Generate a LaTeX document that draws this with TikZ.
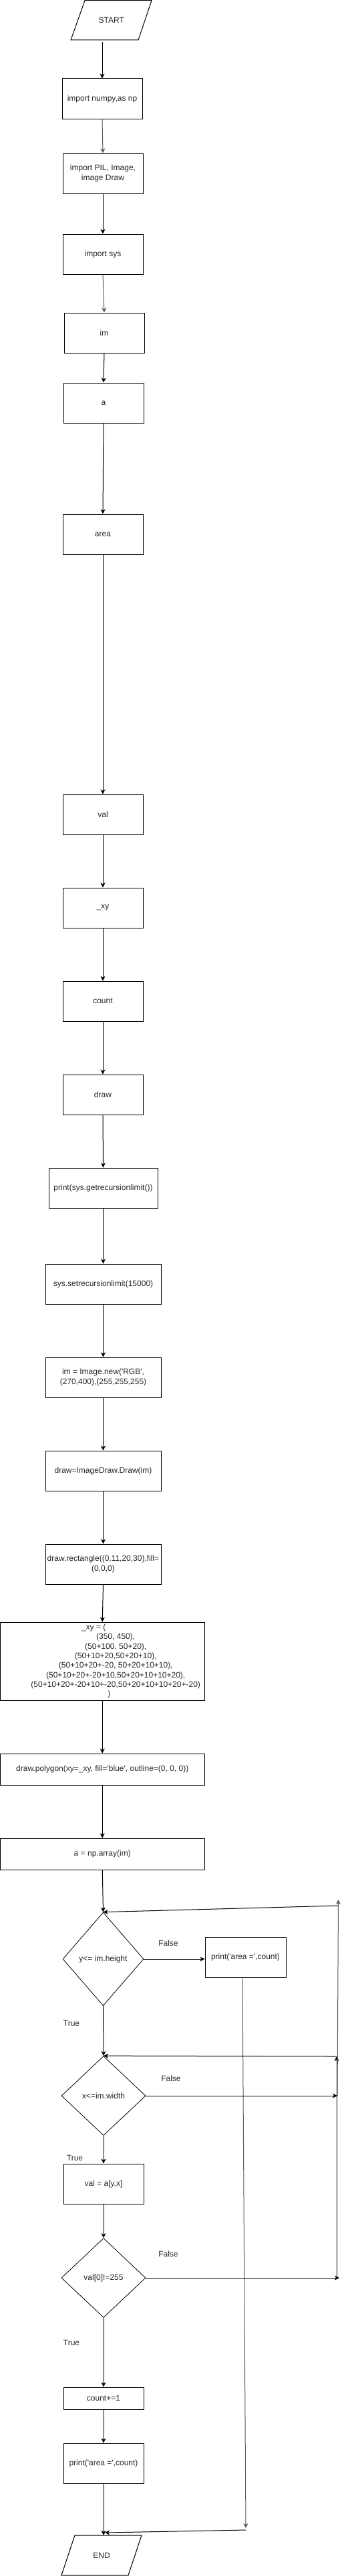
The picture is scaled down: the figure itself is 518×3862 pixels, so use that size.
\documentclass[tikz,border=0pt]{standalone}
\usepackage{fontspec}
\setmainfont{Liberation Sans}
\usetikzlibrary{shapes.geometric,arrows.meta}
\newcommand\diafont{\fontsize{12}{14.4}\selectfont}
\begin{document}
\begin{tikzpicture}[x=1pt,y=-1pt,
  box/.style={draw, line width=1pt, minimum width=120pt, minimum height=60pt, inner sep=1pt, align=center, font=\diafont, text=black!85},
  wide/.style={box, minimum width=305.5pt, minimum height=47pt},
  dia/.style={draw, diamond, line width=0.8pt, inner sep=0pt, align=center, font=\diafont, text=black!85},
  plain/.style={inner sep=1pt, align=center, font=\diafont, text=black!85},
  lbl/.style={inner sep=1pt, font=\diafont, text=black!85},
  arr/.style={-{Stealth[length=7pt,width=7pt,inset=2pt]}, line width=1pt},
  garr/.style={arr, draw=black!65}]
\fill[white] (0,0) rectangle (518,3862);
\useasboundingbox (0,0) rectangle (518,3862);

% start
\node[plain, minimum height=60pt] (start) at (166.75,30) {START};
\draw[line width=1pt] (127,0.7) -- (227,0.7) -- (207,60) -- (106,60) -- cycle;

\node[box] (n1) at (153,148) {import numpy,as np};
\node[box] (n2) at (154,260) {import PIL, Image,\\image Draw};
\node[box] (n3) at (154,381) {import sys};
\node[box] (n4) at (156,499) {im};
\node[box] (n5) at (155,604) {a};
\node[box] (n6) at (154,801) {area};
\node[box] (n7) at (154,1221) {val};
\node[box] (n8) at (154,1361) {\_xy};
\node[box] (n9) at (154,1501) {count};
\node[box] (n10) at (154,1641) {draw};
\node[box, minimum width=163pt] (n11) at (154.5,1781) {print(sys.getrecursionlimit())};
\node[box, minimum width=173pt] (n12) at (154.5,1925) {sys.setrecursionlimit(15000)};
\node[box, minimum width=173pt] (n13) at (154.5,2065) {im = Image.new(\textquotesingle RGB\textquotesingle,\\(270,400),(255,255,255)};
\node[box, minimum width=173pt] (n14) at (154.5,2205) {draw=ImageDraw.Draw(im)};
\node[box, minimum width=173pt] (n15) at (154.5,2345) {draw.rectangle((0,11,20,30),fill=\\(0,0,0)};
\node[box, minimum width=305.5pt, minimum height=117pt, font={\fontsize{12}{14.3}\selectfont}] (n16) at (153.25,2490.5)
  {\_xy = (\hspace*{26pt}\\
   \hspace*{40pt}(350, 450),\\
   \hspace*{40pt}(50+100, 50+20),\\
   \hspace*{40pt}(50+10+20,50+20+10),\\
   \hspace*{40pt}(50+10+20+-20, 50+20+10+10),\\
   \hspace*{40pt}(50+10+20+-20+10,50+20+10+10+20),\\
   \hspace*{40pt}(50+10+20+-20+10+-20,50+20+10+10+20+-20)\\
   \hspace*{20pt})};
\node[wide] (n17) at (153.25,2652.5) {draw.polygon(xy=\_xy, fill=\textquotesingle blue\textquotesingle, outline=(0, 0, 0))};
\node[wide] (n18) at (153.25,2779.5) {a = np.array(im)};

\node[dia, minimum width=121pt, minimum height=140pt] (d1) at (154.5,2937) {y<= im.height};
\node[box, minimum width=121pt] (p1) at (367.5,2934) {print(\textquotesingle area =\textquotesingle,count)};
\node[dia, minimum width=126pt, minimum height=119pt] (d2) at (155,3142) {x<=im.width};
\node[box] (n20) at (155,3274) {val = a[y,x]};
\node[dia, minimum width=126pt, minimum height=119pt] (d3) at (155,3415) {val[0]!=255};
\node[box, minimum height=33pt] (n21) at (155,3595.5) {count+=1};
\node[box] (n22) at (155,3693) {print(\textquotesingle area =\textquotesingle,count)};

% end
\node[plain, minimum height=60pt] (endn) at (152,3831) {END};
\draw[line width=1pt] (112,3801) -- (212,3801) -- (192,3861) -- (92,3861) -- cycle;

% labels
\node[lbl] (f1) at (252,2913) {False};
\node[lbl] (t1) at (107,3033) {True};
\node[lbl] (f2) at (256,3116) {False};
\node[lbl] (t2) at (112,3235) {True};
\node[lbl] (f3) at (252,3379) {False};
\node[lbl] (t3) at (107,3512) {True};

% coordinates
\coordinate (s0) at (153,63);
\coordinate (cP2) at (368,3790);
\coordinate (cP3) at (368,3793);
\coordinate (cEnd) at (157,3797);
\coordinate (cf3) at (508,3415);
\coordinate (cx0) at (504,3413);
\coordinate (cx1) at (504,3083);
\coordinate (cf2) at (505,3142);
\coordinate (cy1) at (506.5,2848);
\coordinate (cy2) at (506.5,2857);

% main flow
\draw[arr] (s0) -- (n1.north);
\draw[garr] (n1.south) -- (n2.north);
\draw[arr] (n2.south) -- (n3.north);
\draw[garr] (n3.south) -- (n4.north);
\draw[arr] (n4.south) -- (n5.north);
\draw[arr] (n5.south) -- (n6.north);
\draw[arr] (n6.south) -- (n7.north);
\draw[arr] (n7.south) -- (n8.north);
\draw[arr] (n8.south) -- (n9.north);
\draw[arr] (n9.south) -- (n10.north);
\draw[arr] (n10.south) -- (n11.north);
\draw[arr] (n11.south) -- (n12.north);
\draw[arr] (n12.south) -- (n13.north);
\draw[arr] (n13.south) -- (n14.north);
\draw[arr] (n14.south) -- (n15.north);
\draw[arr] (n15.south) -- (n16.north);
\draw[arr] (n16.south) -- (n17.north);
\draw[arr] (n17.south) -- (n18.north);
\draw[arr] (n18.south) -- (d1.north);
\draw[arr] (d1.south) -- (d2.north);
\draw[arr] (d2.south) -- (n20.north);
\draw[arr] (n20.south) -- (d3.north);
\draw[arr] (d3.south) -- (n21.north);
\draw[arr] (n21.south) -- (n22.north);
\draw[arr] (n22.south) -- (n22.south |- endn.north);

% false branches
\draw[arr] (d1.east) -- (d1.east -| p1.west);
\draw[garr] ([xshift=-4.5pt]p1.south) -- (cP2);
\draw[arr] (cP3) -- (cEnd);
\draw[arr] (d3.east) -- (cf3);
\draw[arr] (cx0) -- (cx1);
\draw[arr] (cx1) -- (d2.north);
\draw[arr] (d2.east) -- (cf2);
\draw[garr] (cf2) -- (cy1);
\draw[arr] (cy2) -- (d1.north);
\end{tikzpicture}
\end{document}
